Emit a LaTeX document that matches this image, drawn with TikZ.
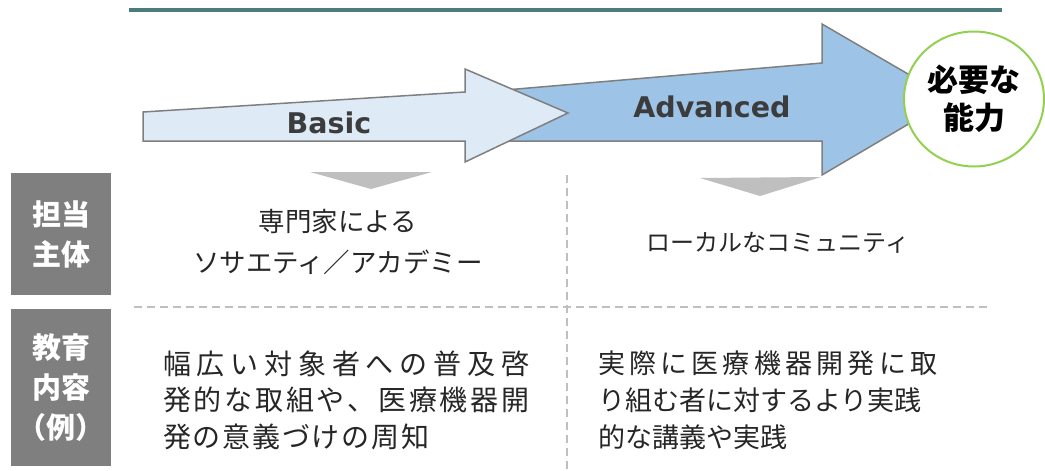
\documentclass[tikz,border=0pt]{standalone}
\usepackage{fontspec}
\setmainfont{Noto Sans CJK JP}
\newfontfamily\arrowfont{DejaVu Sans}
\usetikzlibrary{positioning}
\usetikzlibrary{shapes.geometric}

\definecolor{rule}{RGB}{74,124,123}
\definecolor{basicfill}{RGB}{222,235,247}
\definecolor{advfill}{RGB}{157,195,230}
\definecolor{edge}{RGB}{127,127,127}
\definecolor{lightgray}{RGB}{191,191,191}
\definecolor{ringgreen}{RGB}{146,208,80}
\definecolor{ink}{RGB}{38,38,38}

% spread the characters of one line over a given width
\makeatletter
\newcommand\spreadline[2]{\hbox to #1{\spread@first#2\relax}}
\def\spread@first#1{#1\spread@rest}
\def\spread@rest#1{\ifx\relax#1\else\hfil#1\expandafter\spread@rest\fi}
\makeatother

\begin{document}
\begin{tikzpicture}[x=1pt,y=-1pt,
      arrowbody/.style={draw=edge, line width=1.5pt, line join=miter},
      pointer/.style={fill=lightgray},
      divider/.style={draw=lightgray, line width=1.5pt, dash pattern=on 8pt off 5pt},
      rowlabel/.style={fill=edge, text=white, font=\fontsize{29}{40}\selectfont\bfseries,
        align=center, minimum width=100pt, inner sep=0pt},
      arrowtext/.style={text=ink!90, font=\arrowfont\bfseries\fontsize{28.5}{30}\selectfont, inner sep=0pt},
      body/.style={text=ink, font=\fontsize{26.5}{41}\selectfont, inner sep=0pt, align=center},
      line/.style={text=ink, font=\fontsize{28}{41}\selectfont, inner sep=0pt, anchor=west}]

    \useasboundingbox (0,0) rectangle (1045,471);

    % top rule
    \draw[rule, line width=4pt] (129,10) -- (1002,10);

    % arrows
    \filldraw[arrowbody, fill=advfill]
      (470,93) -- (822,63) -- (822,24) -- (951,99) -- (822,175) -- (822,141) -- (470,141) -- cycle;
    \filldraw[arrowbody, fill=basicfill]
      (143,112) -- (465,92) -- (465,69) -- (568,113) -- (465,162) -- (465,141) -- (143,141) -- cycle;

    \node[arrowtext] (Basic) at (329,123) {Basic};
    \node[arrowtext] (Advanced) at (712,107) {Advanced};

    \node[draw=ringgreen, line width=2pt, fill=white, ellipse, minimum width=140pt,
          minimum height=135pt, inner sep=0pt, align=center,
          font=\fontsize{31}{38}\selectfont\bfseries]
      (Ability) at (974,99) {必要な\\能力};

    % pointers
    \fill[pointer] (310,172) -- (432,172) -- (371,189) -- cycle;
    \fill[pointer] (700,178) -- (821,177) -- (760,196) -- cycle;

    % grid
    \coordinate (MidTop) at (567,175);
    \coordinate (MidBottom) at (567,471);
    \coordinate (RowLeft) at (134,307);
    \coordinate (RowRight) at (991,307);
    \draw[divider] (MidTop) -- (MidBottom);
    \draw[divider] (RowLeft) -- (RowRight);

    % row labels
    \node[rowlabel, minimum height=122pt] (Actor) at (61,234) {担当\\主体};
    \node[rowlabel, minimum height=157pt] (Content) at (61,387.5) {教育\\内容\\（例）};

    % actors
    \node[body] (ActorBasic) at (338,242) {専門家による\\ソサエティ／アカデミー};
    \node[body, font=\fontsize{24}{41}\selectfont] (ActorAdv) at (778,243) {ローカルなコミュニティ};

    % contents
    \node[line] (BasicA) at (163,364) {\spreadline{366pt}{幅広い対象者への普及啓}};
    \node[line] (BasicB) at (163,400) {\spreadline{366pt}{発的な取組や、医療機器開}};
    \node[line] (BasicC) at (163,437) {\spreadline{266pt}{発の意義づけの周知}};
    \node[line, font=\fontsize{27}{41}\selectfont] (AdvA) at (598,363) {\spreadline{339pt}{実際に医療機器開発に取}};
    \node[line, font=\fontsize{27}{41}\selectfont] (AdvB) at (598,400) {り組む者に対するより実践};
    \node[line, font=\fontsize{27}{41}\selectfont] (AdvC) at (598,437) {的な講義や実践};

  \end{tikzpicture}
\end{document}
